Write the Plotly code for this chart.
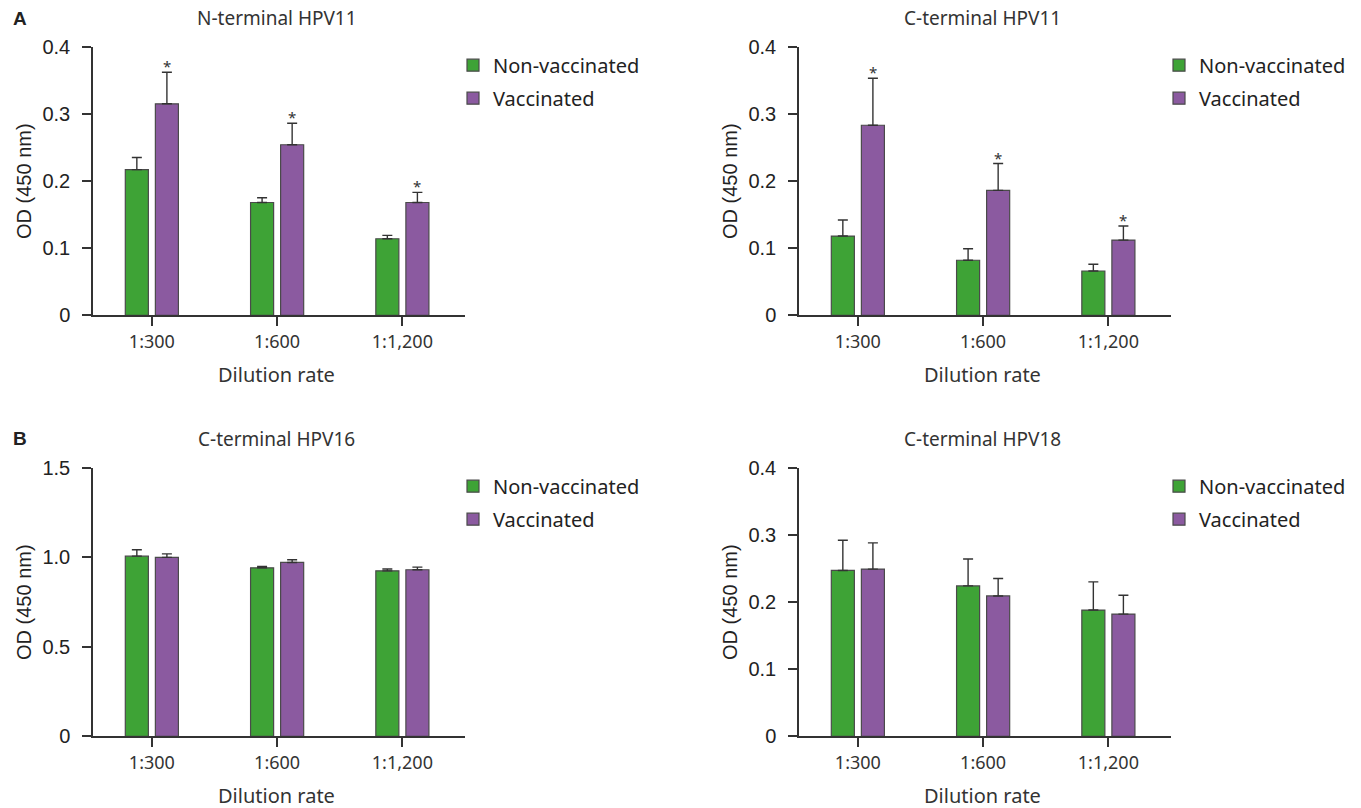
import plotly.graph_objects as go

W, H = 1361, 808

categories = ["1:300", "1:600", "1:1,200"]
series_names = ["Non-vaccinated", "Vaccinated"]

# N-terminal HPV11
n11_non = [0.217, 0.168, 0.114]
n11_non_err = [0.018, 0.007, 0.005]
n11_vac = [0.315, 0.254, 0.168]
n11_vac_err = [0.047, 0.032, 0.015]
n11_sig = [True, True, True]

# C-terminal HPV11
c11_non = [0.118, 0.082, 0.066]
c11_non_err = [0.024, 0.017, 0.010]
c11_vac = [0.283, 0.186, 0.112]
c11_vac_err = [0.070, 0.040, 0.021]
c11_sig = [True, True, True]

# C-terminal HPV16
c16_non = [1.006, 0.941, 0.924]
c16_non_err = [0.036, 0.007, 0.010]
c16_vac = [0.999, 0.971, 0.930]
c16_vac_err = [0.020, 0.015, 0.015]
c16_sig = [False, False, False]

# C-terminal HPV18
c18_non = [0.247, 0.224, 0.188]
c18_non_err = [0.045, 0.040, 0.042]
c18_vac = [0.249, 0.209, 0.182]
c18_vac_err = [0.039, 0.026, 0.028]
c18_sig = [False, False, False]

panel_titles = ["N-terminal HPV11", "C-terminal HPV11", "C-terminal HPV16", "C-terminal HPV18"]
y_ranges = [[0, 0.4], [0, 0.4], [0, 1.5], [0, 0.4]]
y_ticks = [[0, 0.1, 0.2, 0.3, 0.4], [0, 0.1, 0.2, 0.3, 0.4], [0, 0.5, 1.0, 1.5], [0, 0.1, 0.2, 0.3, 0.4]]
y_ticktext = [["0", "0.1", "0.2", "0.3", "0.4"], ["0", "0.1", "0.2", "0.3", "0.4"],
              ["0", "0.5", "1.0", "1.5"], ["0", "0.1", "0.2", "0.3", "0.4"]]

panels = [
    (n11_non, n11_non_err, n11_vac, n11_vac_err, n11_sig),
    (c11_non, c11_non_err, c11_vac, c11_vac_err, c11_sig),
    (c16_non, c16_non_err, c16_vac, c16_vac_err, c16_sig),
    (c18_non, c18_non_err, c18_vac, c18_vac_err, c18_sig),
]

GREEN = "#3ea336"
PURPLE = "#8b5aa0"
EDGE = "#4a4a4a"
AX = "#333333"
HUM = "Noto Sans"
ARIAL = "Liberation Sans"

# pixel boxes (left, right, top, bottom)
boxes = [
    (93, 465, 46.7, 315.3),
    (799, 1171, 46.7, 315.3),
    (93, 465, 467.7, 736.3),
    (799, 1171, 467.7, 736.3),
]

fig = go.Figure()
annotations = []

for i, (non, non_e, vac, vac_e, sig) in enumerate(panels):
    k = "" if i == 0 else str(i + 1)
    xa, ya = "x" + k, "y" + k
    leg = "legend" + k
    fig.add_trace(go.Bar(
        x=categories, y=non, name=series_names[0], xaxis=xa, yaxis=ya, legend=leg,
        legendgroup="p%d_a" % i,
        marker=dict(color=GREEN, line=dict(color=EDGE, width=1.2)),
        error_y=dict(type="data", symmetric=False, array=non_e, arrayminus=[0] * len(non_e),
                     color=AX, thickness=1.4, width=5),
        offsetgroup="a",
    ))
    fig.add_trace(go.Bar(
        x=categories, y=vac, name=series_names[1], xaxis=xa, yaxis=ya, legend=leg,
        legendgroup="p%d_b" % i,
        marker=dict(color=PURPLE, line=dict(color=EDGE, width=1.2)),
        error_y=dict(type="data", symmetric=False, array=vac_e, arrayminus=[0] * len(vac_e),
                     color=AX, thickness=1.4, width=5),
        offsetgroup="b",
    ))
    l, r, t, b = boxes[i]
    dom_x = [l / W, r / W]
    dom_y = [1 - b / H, 1 - t / H]
    cx = l + 0.47 * 125 + 125  # pixel centre of middle category
    fig.layout["xaxis" + k] = dict(
        domain=dom_x, anchor=ya, type="category", range=[-0.47, 2.5], automargin=False,
        showline=True, linecolor=AX, linewidth=1.5, ticks="outside", ticklen=9,
        tickcolor=AX, tickwidth=1.5, showgrid=False, zeroline=False,
        tickfont=dict(family=HUM, size=18, color="#333"), ticklabelstandoff=0,
    )
    fig.layout["yaxis" + k] = dict(
        domain=dom_y, anchor=xa, range=y_ranges[i], tickvals=y_ticks[i], ticktext=y_ticktext[i],
        automargin=False,
        showline=True, linecolor=AX, linewidth=1.5, ticks="outside", ticklen=9,
        tickcolor=AX, tickwidth=1.5, showgrid=False, zeroline=False,
        tickfont=dict(family=ARIAL, size=20, color="#222"), ticklabelstandoff=8,
    )
    fig.layout[leg] = dict(
        x=(r - 12) / W, y=1 - (t - 1) / H, xanchor="left", yanchor="top",
        font=dict(family=HUM, size=20, color="#222"), bgcolor="rgba(0,0,0,0)",
        itemwidth=30, tracegroupgap=4,
    )
    annotations.append(dict(text=panel_titles[i], xref="paper", yref="paper",
                            x=cx / W, y=1 - (t - 29) / H,
                            showarrow=False, font=dict(family=HUM, size=19, color="#333"),
                            xanchor="center", yanchor="middle"))
    annotations.append(dict(text="Dilution rate", xref="paper", yref="paper",
                            x=cx / W, y=1 - (b + 59) / H,
                            showarrow=False, font=dict(family=HUM, size=20, color="#333"),
                            xanchor="center", yanchor="middle"))
    annotations.append(dict(text="OD (450 nm)", xref="paper", yref="paper",
                            x=(l - 69) / W, y=1 - ((t + b) / 2) / H, textangle=-90,
                            showarrow=False, font=dict(family=ARIAL, size=20, color="#222"),
                            xanchor="center", yanchor="middle"))
    for j, s in enumerate(sig):
        if s:
            annotations.append(dict(text="*", x=categories[j], y=vac[j] + vac_e[j],
                                    xref=xa, yref=ya, xshift=15, yshift=6,
                                    showarrow=False, font=dict(family=HUM, size=15, color="#333"),
                                    xanchor="center", yanchor="middle"))

for lab, yy in (("A", 18), ("B", 438)):
    annotations.append(dict(text="<b>%s</b>" % lab, xref="paper", yref="paper",
                            x=20 / W, y=1 - yy / H, showarrow=False,
                            font=dict(family=ARIAL, size=19, color="#222"),
                            xanchor="center", yanchor="middle"))

fig.update_layout(
    template="none",
    width=W, height=H, margin=dict(l=0, r=0, t=0, b=0, autoexpand=False),
    paper_bgcolor="white", plot_bgcolor="white",
    barmode="group", bargap=0.52, bargroupgap=0.233,
    annotations=annotations, showlegend=True,
)

fig.write_html("out.html", config={"displayModeBar": False},
               post_script="document.body.style.margin='0';document.body.style.overflow='hidden';")
